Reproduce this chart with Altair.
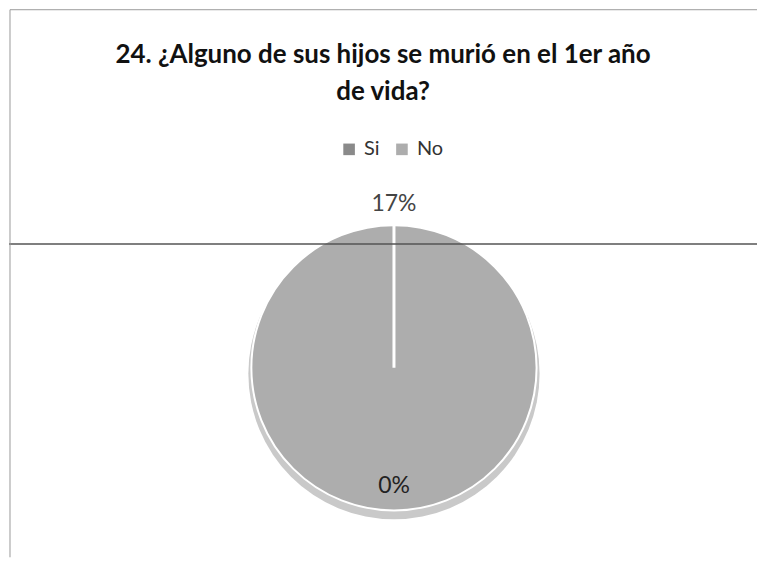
import altair as alt
import pandas as pd

categories = ["Si", "No"]
values = [0, 100]
labels = ["17%", "0%"]
order_idx = [0, 1]

df = pd.DataFrame({"cat": categories, "val": values, "label": labels, "idx": order_idx})

W, H = 750, 549
CX, CY, R = 386, 359, 143

color = alt.Color(
    "cat:N",
    scale=alt.Scale(domain=categories, range=["#8a8a8a", "#adadad"]),
    legend=alt.Legend(
        title=None, orient="none", legendX=331, legendY=130, direction="horizontal",
        symbolType="square", symbolSize=135, labelFontSize=20, labelFont="Lato",
        labelColor="#333333", columnPadding=12, symbolStrokeWidth=0, labelOffset=5,
    ),
)

base = alt.Chart(df).encode(
    theta=alt.Theta("val:Q", stack=True),
    order=alt.Order("idx:Q"),
)

shadow = base.mark_arc(radius=146, color="#c9c9c9").encode(
    x=alt.value(CX), y=alt.value(CY + 6)
)
pie = base.mark_arc(radius=R, stroke="white", strokeWidth=2).encode(
    color=color, x=alt.value(CX), y=alt.value(CY)
)
seam = base.transform_filter(alt.datum.cat == "Si").mark_arc(
    radius=R, stroke="white", strokeWidth=3, fillOpacity=0
).encode(x=alt.value(CX), y=alt.value(CY))

lab_out = base.transform_filter(alt.datum.cat == "Si").mark_text(
    radius=164, fontSize=23, font="Lato", color="#444444"
).encode(text="label:N", x=alt.value(CX), y=alt.value(CY))
lab_in = base.transform_filter(alt.datum.cat == "No").mark_text(
    radius=119, fontSize=23, font="Lato", color="#222222"
).encode(text="label:N", x=alt.value(CX), y=alt.value(CY))

line_df = pd.DataFrame({"k": [0]})
scan = alt.Chart(line_df).mark_rule(color="#555555", strokeWidth=1.5).encode(
    x=alt.value(0), x2=alt.value(W), y=alt.value(235)
)
left_border = alt.Chart(line_df).mark_rule(color="#9a9a9a", strokeWidth=1).encode(
    x=alt.value(1), y=alt.value(0), y2=alt.value(H)
)
top_border = alt.Chart(line_df).mark_rule(color="#9a9a9a", strokeWidth=1).encode(
    x=alt.value(1), x2=alt.value(W), y=alt.value(0)
)

chart = alt.layer(shadow, pie, seam, lab_out, lab_in, scan, left_border, top_border).properties(
    width=W, height=H,
    title=alt.TitleParams(
        ["24. ¿Alguno de sus hijos se murió en el 1er año", "de vida?"],
        font="Lato", fontSize=26, fontWeight="bold", color="#111111",
        anchor="middle", offset=-96, lineHeight=37,
    ),
).configure_view(stroke=None).properties(padding=0)

chart.save("out.html", embed_options={"renderer": "svg", "actions": False})
